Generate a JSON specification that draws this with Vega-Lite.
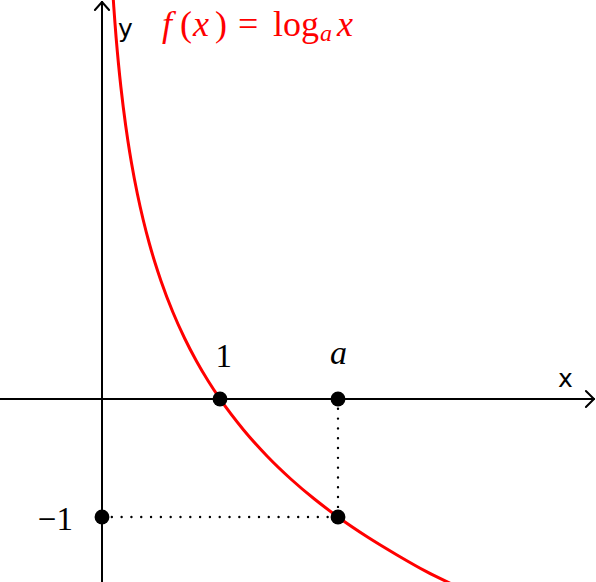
{
  "$schema": "https://vega.github.io/schema/vega-lite/v6.json",
  "width": 596,
  "height": 582,
  "autosize": {"type": "fit", "contains": "padding"},
  "padding": 0,
  "background": "white",
  "config": {"view": {"stroke": null}},
  "datasets": {
    "axes": [
      {"x": -0.87, "x2": 4.169, "y": 0, "y2": 0},
      {"x": 4.169, "x2": 4.101, "y": 0, "y2": 0.068},
      {"x": 4.169, "x2": 4.101, "y": 0, "y2": -0.068},
      {"x": 0, "x2": 0, "y": -1.56, "y2": 3.364},
      {"x": 0, "x2": -0.06, "y": 3.364, "y2": 3.296},
      {"x": 0, "x2": 0.06, "y": 3.364, "y2": 3.296}
    ],
    "guides": [
      {"x": 2, "x2": 2, "y": 0, "y2": -1},
      {"x": 0, "x2": 2, "y": -1, "y2": -1}
    ],
    "curve": [
      {"x": 0.09, "y": 3.474},
      {"x": 0.1, "y": 3.3219},
      {"x": 0.11, "y": 3.1844},
      {"x": 0.12, "y": 3.0589},
      {"x": 0.13, "y": 2.9434},
      {"x": 0.14, "y": 2.8365},
      {"x": 0.15, "y": 2.737},
      {"x": 0.16, "y": 2.6439},
      {"x": 0.18, "y": 2.4739},
      {"x": 0.2, "y": 2.3219},
      {"x": 0.22, "y": 2.1844},
      {"x": 0.25, "y": 2.0},
      {"x": 0.3, "y": 1.737},
      {"x": 0.35, "y": 1.5146},
      {"x": 0.4, "y": 1.3219},
      {"x": 0.45, "y": 1.152},
      {"x": 0.5, "y": 1.0},
      {"x": 0.6, "y": 0.737},
      {"x": 0.7, "y": 0.5146},
      {"x": 0.8, "y": 0.3219},
      {"x": 0.9, "y": 0.152},
      {"x": 1.0, "y": 0.0},
      {"x": 1.2, "y": -0.263},
      {"x": 1.4, "y": -0.4854},
      {"x": 1.6, "y": -0.6781},
      {"x": 1.8, "y": -0.848},
      {"x": 2.0, "y": -1.0},
      {"x": 2.25, "y": -1.1699},
      {"x": 2.5, "y": -1.3219},
      {"x": 2.75, "y": -1.4635},
      {"x": 3.0, "y": -1.585}
    ],
    "points": [
      {"x": 1, "y": 0},
      {"x": 2, "y": 0},
      {"x": 2, "y": -1},
      {"x": 0, "y": -1}
    ],
    "mathLabels": [
      {"x": 1.1017, "y": 0.271, "text": "1"},
      {"x": -0.2458, "y": -1.11, "text": "−1"}
    ],
    "italicLabels": [
      {"x": 2.004, "y": 0.297, "text": "a"}
    ],
    "sansLabels": [
      {"x": 0.1356, "y": 3.068, "text": "y"},
      {"x": 3.864, "y": 0.102, "text": "x"}
    ],
    "titleItalic": [
      {"x": 0.5085, "y": 3.076, "text": "f"},
      {"x": 0.7712, "y": 3.076, "text": "x"},
      {"x": 1.9915, "y": 3.076, "text": "x"}
    ],
    "titleUpright": [
      {"x": 0.661, "y": 3.076, "text": "("},
      {"x": 0.9576, "y": 3.076, "text": ")"},
      {"x": 1.1525, "y": 3.076, "text": "="},
      {"x": 1.45, "y": 3.076, "text": "log"}
    ],
    "titleSub": [
      {"x": 1.8475, "y": 3.034, "text": "a"}
    ]
  },
  "encoding": {
    "x": {"field": "x", "type": "quantitative", "scale": {"domain": [-0.8644, 4.1864], "nice": false, "zero": false}, "axis": null},
    "y": {"field": "y", "type": "quantitative", "scale": {"domain": [-1.551, 3.381], "nice": false, "zero": false}, "axis": null}
  },
  "layer": [
    {
      "data": {"name": "axes"},
      "mark": {"type": "rule", "color": "black", "strokeWidth": 2, "strokeCap": "round", "clip": true},
      "encoding": {"x2": {"field": "x2"}, "y2": {"field": "y2"}}
    },
    {
      "data": {"name": "guides"},
      "mark": {"type": "rule", "color": "black", "strokeWidth": 2.4, "strokeDash": [0.01, 9.8], "strokeCap": "round"},
      "encoding": {"x2": {"field": "x2"}, "y2": {"field": "y2"}}
    },
    {
      "data": {"name": "curve"},
      "mark": {"type": "line", "color": "#ff0000", "strokeWidth": 3, "clip": true, "interpolate": "monotone"},
      "encoding": {}
    },
    {
      "data": {"name": "points"},
      "mark": {"type": "circle", "color": "black", "opacity": 1, "size": 220},
      "encoding": {}
    },
    {
      "data": {"name": "mathLabels"},
      "mark": {"type": "text", "font": "Liberation Serif", "fontSize": 33, "baseline": "alphabetic", "align": "right", "color": "black"},
      "encoding": {"text": {"field": "text"}}
    },
    {
      "data": {"name": "italicLabels"},
      "mark": {"type": "text", "font": "Liberation Serif", "fontStyle": "italic", "fontSize": 34, "baseline": "alphabetic", "align": "center", "color": "black"},
      "encoding": {"text": {"field": "text"}}
    },
    {
      "data": {"name": "sansLabels"},
      "mark": {"type": "text", "font": "DejaVu Sans", "fontSize": 25, "baseline": "alphabetic", "align": "left", "color": "black"},
      "encoding": {"text": {"field": "text"}}
    },
    {
      "data": {"name": "titleItalic"},
      "mark": {"type": "text", "font": "Liberation Serif", "fontStyle": "italic", "fontSize": 36, "baseline": "alphabetic", "align": "left", "color": "#ff0000"},
      "encoding": {"text": {"field": "text"}}
    },
    {
      "data": {"name": "titleUpright"},
      "mark": {"type": "text", "font": "Liberation Serif", "fontSize": 36, "baseline": "alphabetic", "align": "left", "color": "#ff0000"},
      "encoding": {"text": {"field": "text"}}
    },
    {
      "data": {"name": "titleSub"},
      "mark": {"type": "text", "font": "Liberation Serif", "fontStyle": "italic", "fontSize": 24, "baseline": "alphabetic", "align": "left", "color": "#ff0000"},
      "encoding": {"text": {"field": "text"}}
    }
  ]
}
